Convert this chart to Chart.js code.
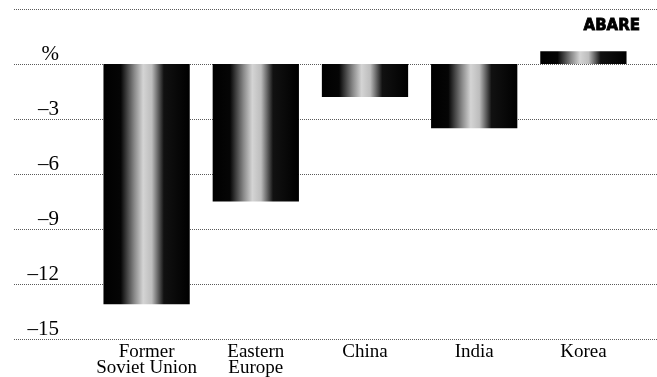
<!DOCTYPE html>
<html>
<head>
<meta charset="utf-8">
<script src="https://cdn.jsdelivr.net/npm/chart.js@4.4.1/dist/chart.umd.min.js"></script>
<style>
  html, body { margin: 0; padding: 0; background: #fff; }
  #wrap { width: 657px; height: 377px; position: relative; }
</style>
</head>
<body>
<div id="wrap"><canvas id="c" width="657" height="377"></canvas></div>
<script>
// Change by region, per cent
const regions = [['Former', 'Soviet Union'], ['Eastern', 'Europe'], 'China', 'India', 'Korea'];
const changes = [-13.1, -7.5, -1.8, -3.5, 0.7];

// Value axis: gridline positions and their printed labels
const gridValues = [3, 0, -3, -6, -9, -12, -15];
const tickValues = [0, -3, -6, -9, -12, -15];
const tickLabels = ['%', '\u20133', '\u20136', '\u20139', '\u201312', '\u201315'];

const sourceTag = 'ABARE';

const BAR_FRACTION = 0.79;

// Horizontal shading of each bar: dark edges with a pale band near the middle
function barShade(ctx) {
  const chart = ctx.chart;
  if (!chart.chartArea) return '#000';
  const xs = chart.scales.x;
  const cx = xs.getPixelForValue(ctx.dataIndex);
  const w = (xs.width / regions.length) * BAR_FRACTION;
  const g = chart.ctx.createLinearGradient(cx - w / 2, 0, cx + w / 2, 0);
  g.addColorStop(0.00, '#000');
  g.addColorStop(0.20, '#050505');
  g.addColorStop(0.36, '#8a8a8a');
  g.addColorStop(0.46, '#d4d4d4');
  g.addColorStop(0.56, '#bdbdbd');
  g.addColorStop(0.70, '#111');
  g.addColorStop(1.00, '#000');
  return g;
}

// Dotted rules across the full width, value labels sitting above each rule
const ruledAxis = {
  id: 'ruledAxis',
  beforeDatasetsDraw(chart) {
    const c = chart.ctx;
    const ys = chart.scales.y;
    c.save();
    c.strokeStyle = '#5a5a5a';
    c.lineWidth = 1;
    c.setLineDash([1, 1]);
    gridValues.forEach(v => {
      const y = Math.round(ys.getPixelForValue(v)) + 0.5;
      c.beginPath();
      c.moveTo(14, y);
      c.lineTo(chart.width, y);
      c.stroke();
    });
    c.setLineDash([]);
    c.fillStyle = '#000';
    c.font = '21px "Liberation Serif", "Times New Roman", serif';
    c.textAlign = 'right';
    c.textBaseline = 'alphabetic';
    tickValues.forEach((v, i) => {
      const y = ys.getPixelForValue(v);
      c.fillText(tickLabels[i], 59, y - 4);
    });
    c.font = 'bold 15px "DejaVu Sans", sans-serif';
    c.textAlign = 'right';
    c.textBaseline = 'middle';
    c.strokeStyle = '#000';
    c.lineWidth = 0.8;
    c.fillText(sourceTag, 640, 26);
    c.strokeText(sourceTag, 640, 26);
    c.restore();
  }
};

new Chart(document.getElementById('c'), {
  type: 'bar',
  data: {
    labels: regions,
    datasets: [{
      data: changes,
      backgroundColor: barShade,
      borderWidth: 0,
      categoryPercentage: 1,
      barPercentage: BAR_FRACTION
    }]
  },
  options: {
    responsive: false,
    animation: false,
    devicePixelRatio: 1,
    layout: { padding: { left: 92, right: 19, top: 9, bottom: 0 } },
    plugins: { legend: { display: false }, tooltip: { enabled: false } },
    scales: {
      y: {
        display: false,
        min: -15,
        max: 3
      },
      x: {
        grid: { display: false, drawTicks: false },
        border: { display: false },
        ticks: {
          color: '#000',
          padding: 5,
          maxRotation: 0,
          autoSkip: false,
          font: { family: '"Liberation Serif", "Times New Roman", serif', size: 19, lineHeight: 0.86 }
        },
        afterFit(scale) { scale.height = 38; }
      }
    }
  },
  plugins: [ruledAxis]
});
</script>
</body>
</html>
